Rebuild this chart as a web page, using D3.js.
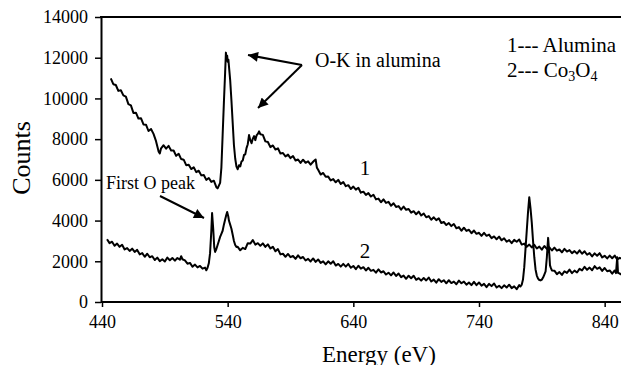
<!DOCTYPE html>
<html>
<head>
<meta charset="utf-8">
<script src="https://cdn.jsdelivr.net/npm/d3@7"></script>
<style>
  body { margin: 0; background: #fff; }
  svg text { font-family: "Liberation Serif", "Times New Roman", Times, "DejaVu Serif", serif; fill: #000; }
</style>
</head>
<body>
<div id="chart"></div>
<script>
// spectra: [energy eV, counts]
var alumina = [
  [447,10990],[449,10700],[451,10660],[453,10370],[455,10400],[457,10150],[459,10090],[461,9720],[463,9660],[465,9290],
  [467,9300],[469,9010],[471,9030],[473,8720],[475,8710],[477,8400],[479,8500],[481,8260],[483,7900],[484,7650],
  [485,7400],[486,7300],[487,7550],[489,7700],[491,7530],[493,7670],[495,7440],[497,7440],[499,7180],[501,7280],
  [503,7020],[505,6990],[507,6720],[509,6740],[511,6530],[513,6620],[515,6380],[517,6450],[519,6220],[521,6240],
  [523,6000],[525,6090],[527,5900],[529,5960],[531,5640],[532,5580],[533,5720],[534,5850],[535,6600],[536,8200],
  [537,9800],[538,11300],[538.6,12250],[539,12000],[539.6,12100],[540,11800],[540.6,11900],[541,11600],[542,10900],[543,9900],
  [544,8800],[545,7700],[546,7050],[547,6650],[548,6520],[549,6720],[550,6660],[551,6900],[552,6950],[553,7220],
  [554,7250],[555,7560],[556,7750],[557,8200],[558,7950],[559,7800],[560,8020],[561,8150],[562,7950],[563,8180],
  [564,8260],[565,8380],[566,8240],[568,8210],[570,7890],[572,7860],[574,7610],[576,7690],[578,7490],[580,7550],
  [582,7290],[584,7320],[586,7150],[588,7240],[590,7070],[592,7170],[594,6950],[596,7000],[598,6830],[600,6990],
  [602,6840],[604,6910],[606,6750],[608,6890],[609,6950],[610,7000],[611,6600],[612,6500],[614,6260],[616,6340],
  [618,6150],[620,6160],[622,5970],[624,6040],[626,5880],[628,6000],[630,5800],[632,5890],[634,5690],[636,5740],
  [638,5550],[640,5670],[642,5520],[644,5610],[646,5370],[648,5420],[650,5260],[652,5350],[654,5180],[656,5270],
  [658,5040],[660,5080],[662,4900],[664,5040],[666,4870],[668,4920],[670,4730],[672,4850],[674,4670],[676,4710],
  [678,4540],[680,4690],[682,4530],[684,4570],[686,4390],[688,4460],[690,4310],[692,4440],[694,4250],[696,4350],
  [698,4160],[700,4220],[702,4040],[704,4160],[706,4020],[708,4110],[710,3880],[712,3930],[714,3780],[716,3880],
  [718,3730],[720,3830],[722,3620],[724,3680],[726,3500],[728,3650],[730,3490],[732,3550],[734,3380],[736,3510],
  [738,3350],[740,3400],[742,3250],[744,3400],[746,3250],[748,3310],[750,3140],[752,3220],[754,3080],[756,3210],
  [758,3030],[760,3130],[762,2960],[764,3040],[766,2890],[768,3050],[770,2960],[772,3070],[774,2820],[776,2870],
  [778,2710],[780,2820],[782,2680],[784,2810],[786,2630],[788,2720],[790,2570],[792,2750],[794,2610],[796,2690],
  [798,2530],[800,2670],[802,2520],[804,2580],[806,2440],[808,2610],[810,2480],[812,2550],[814,2400],[816,2500],
  [818,2380],[820,2540],[822,2370],[824,2490],[826,2320],[828,2400],[830,2240],[832,2390],[834,2270],[836,2400],
  [838,2190],[840,2270],[842,2140],[844,2280],[846,2150],[848,2280],[850,2090],[852,2170],[853,2120]
];

var cobalt = [
  [444,3080],[446,2890],[448,2960],[450,2760],[452,2870],[454,2710],[456,2810],[458,2580],[460,2650],[462,2510],
  [464,2620],[466,2460],[468,2560],[470,2340],[472,2400],[474,2220],[476,2370],[478,2200],[480,2250],[482,2060],
  [484,2180],[486,2010],[488,2100],[490,1990],[492,2180],[494,2050],[496,2160],[498,2030],[500,2160],[502,2080],
  [503,2250],[504,2100],[506,2040],[508,1880],[510,1920],[512,1730],[514,1840],[516,1700],[518,1770],[520,1640],
  [522,1690],[523,1560],[524,1680],[525,1900],[526,2400],[527,3500],[527.6,4370],[528.5,3600],[529.3,2700],[530,2460],
  [531,2600],[532,2800],[533,3000],[534,3200],[535,3350],[536,3500],[537,3800],[538,4050],[539,4300],[539.6,4420],
  [540.5,4200],[541,4000],[542,3800],[543,3600],[544,3300],[545,3000],[546,2800],[547,2700],
  [548,2710],[550,2540],[552,2660],[554,2600],[556,2890],[558,2870],[560,3040],[562,2820],[564,2890],[566,2760],
  [568,2880],[570,2710],[572,2830],[574,2630],[576,2710],[578,2490],[580,2600],[582,2340],[584,2370],[586,2220],
  [588,2360],[590,2200],[592,2260],[594,2120],[596,2290],[598,2150],[600,2210],[602,2040],[604,2120],[606,1990],
  [608,2140],[610,1970],[612,2090],[614,1920],[616,2000],[618,1850],[620,2000],[622,1880],[624,2000],[626,1790],
  [628,1870],[630,1740],[632,1870],[634,1740],[636,1870],[638,1680],[640,1770],[642,1610],[644,1780],[646,1640],
  [648,1710],[650,1550],[652,1680],[654,1530],[656,1580],[658,1440],[660,1600],[662,1450],[664,1510],[666,1350],
  [668,1440],[670,1310],[672,1450],[674,1280],[676,1400],[678,1220],[680,1300],[682,1140],[684,1290],[686,1170],
  [688,1290],[690,1090],[692,1170],[694,1050],[696,1180],[698,1060],[700,1200],[702,1010],[704,1100],[706,950],
  [708,1120],[710,990],[712,1070],[714,920],[716,1070],[718,930],[720,1000],[722,870],[724,1050],[726,920],
  [728,1000],[730,850],[732,960],[734,830],[736,990],[738,830],[740,960],[742,800],[744,890],[746,730],
  [748,890],[750,780],[752,910],[754,710],[756,800],[758,680],[760,820],[762,710],[764,850],[766,680],
  [768,770],[770,630],[772,830],[773,760],[774,850],[775,1100],[776,1700],[777,2600],[778,3500],[779,4400],
  [780,5150],[781,4600],[782,3900],[783,3000],[784,2200],[785,1600],[786,1300],[787,1150],[788,1080],[789,1060],
  [790,1100],[791,1200],[792,1350],[793,1500],[794,2200],[795,3150],[795.8,2500],[796.5,1800],[797,1700],[798,1550],
  [800,1540],[802,1370],[804,1470],[806,1330],[808,1510],[810,1430],[812,1590],[814,1420],[816,1540],[818,1450],
  [820,1630],[822,1550],[824,1730],[826,1580],[828,1690],[830,1560],[832,1760],[834,1630],[836,1700],[838,1530],
  [840,1670],[842,1510],[844,1550],[846,1390],[848,1550],[849,1420],[850,2200],[850.6,1430],[852,1400],[853,1340]
];

var xTicks = [440, 540, 640, 740, 840];
var yTicks = [0, 2000, 4000, 6000, 8000, 10000, 12000, 14000];

var width = 621, height = 365;

var svg = d3.select("#chart").append("svg")
    .attr("width", width)
    .attr("height", height);

var x = d3.scaleLinear().domain([440, 853]).range([102, 621]);
var y = d3.scaleLinear().domain([0, 14000]).range([302, 17]);

// arrow head
svg.append("defs").append("marker")
    .attr("id", "arrow")
    .attr("viewBox", "0 0 10 10")
    .attr("refX", 10)
    .attr("refY", 5)
    .attr("markerUnits", "userSpaceOnUse")
    .attr("markerWidth", 14)
    .attr("markerHeight", 10)
    .attr("orient", "auto")
  .append("path")
    .attr("d", "M0,0L10,5L0,10Z")
    .attr("fill", "#000");

// axes
svg.append("g")
    .attr("transform", "translate(0,302)")
    .call(d3.axisBottom(x).tickValues(xTicks).tickFormat(d3.format("d")).tickSize(5).tickSizeOuter(0).tickPadding(8))
    .call(function(g) {
      g.attr("font-family", null);
      g.select(".domain").attr("stroke-width", 2).attr("d", "M101,0H621");
      g.selectAll(".tick line").attr("stroke-width", 1.5);
      g.selectAll("text").attr("font-size", "18px");
    });

svg.append("g")
    .attr("transform", "translate(101,0)")
    .call(d3.axisLeft(y).tickValues(yTicks).tickFormat(d3.format("d")).tickSize(6).tickSizeOuter(0).tickPadding(7))
    .call(function(g) {
      g.attr("font-family", null);
      g.select(".domain").attr("stroke-width", 2);
      g.selectAll(".tick line").attr("stroke-width", 1.5);
      g.selectAll("text").attr("font-size", "18px");
    });

// top frame line
svg.append("line")
    .attr("x1", 100).attr("x2", 621)
    .attr("y1", y(14000)).attr("y2", y(14000))
    .attr("stroke", "#000")
    .attr("stroke-width", 2);

var line = d3.line()
    .x(function(d) { return x(d[0]); })
    .y(function(d) { return y(d[1]); });

svg.selectAll(".spectrum")
    .data([alumina, cobalt])
    .enter().append("path")
    .attr("class", "spectrum")
    .attr("d", line)
    .attr("fill", "none")
    .attr("stroke", "#000")
    .attr("stroke-width", 2)
    .attr("stroke-linejoin", "round");

// axis titles
svg.append("text")
    .attr("x", 322).attr("y", 362)
    .attr("font-size", "23px")
    .text("Energy (eV)");

svg.append("text")
    .attr("transform", "translate(30,158) rotate(-90)")
    .attr("text-anchor", "middle")
    .attr("font-size", "26px")
    .text("Counts");

// curve numbers
svg.append("text").attr("x", 365).attr("y", 175).attr("text-anchor", "middle")
    .attr("font-size", "21px").text("1");
svg.append("text").attr("x", 365).attr("y", 258).attr("text-anchor", "middle")
    .attr("font-size", "21px").text("2");

// annotations
svg.append("text").attr("x", 315).attr("y", 67).attr("font-size", "20px").text("O-K in alumina");
svg.append("text").attr("x", 106).attr("y", 189).attr("font-size", "18px").text("First O peak");

var arrows = [
  [302, 65, 248, 55],
  [302, 65, 258, 108],
  [160, 196, 204, 218]
];
svg.selectAll(".arrow")
    .data(arrows)
    .enter().append("line")
    .attr("class", "arrow")
    .attr("x1", function(d) { return d[0]; })
    .attr("y1", function(d) { return d[1]; })
    .attr("x2", function(d) { return d[2]; })
    .attr("y2", function(d) { return d[3]; })
    .attr("stroke", "#000")
    .attr("stroke-width", 2)
    .attr("marker-end", "url(#arrow)");

// legend
svg.append("text").attr("x", 507).attr("y", 52).attr("font-size", "21px").text("1--- Alumina");
var leg2 = svg.append("text").attr("x", 507).attr("y", 77).attr("font-size", "21px");
leg2.append("tspan").text("2--- Co");
leg2.append("tspan").attr("font-size", "14px").attr("dy", 4).text("3");
leg2.append("tspan").attr("dy", -4).text("O");
leg2.append("tspan").attr("font-size", "14px").attr("dy", 4).text("4");
</script>
</body>
</html>
